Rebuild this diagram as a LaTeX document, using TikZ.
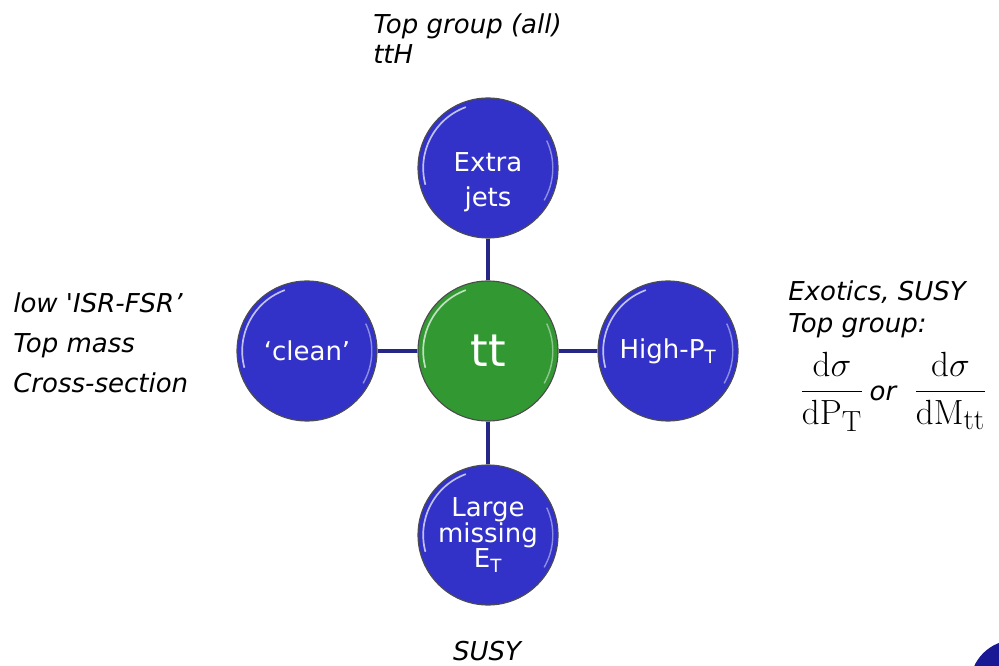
\documentclass[tikz,border=0pt]{standalone}
\usepackage[no-math]{fontspec}
\setmainfont{DejaVu Sans}
\definecolor{ballblue}{RGB}{50,50,200}
\definecolor{ballgreen}{RGB}{50,152,50}
\definecolor{linkblue}{RGB}{38,38,135}
\definecolor{cornerblue}{RGB}{25,25,150}

\begin{document}
\begin{tikzpicture}[
  ball/.style={circle, draw=black!70, line width=0.8pt, minimum size=3.5cm, inner sep=0pt,
    text=white, align=center, font=\fontsize{18.5}{25}\selectfont,
    path picture={
      \draw[white, opacity=.7, line width=1.2pt] (path picture bounding box.center) ++(110:1.62) arc (110:195:1.62);
      \draw[white, opacity=.45, line width=1pt] (path picture bounding box.center) ++(-30:1.62) arc (-30:25:1.62);
    }},
  blueball/.style={ball, fill=ballblue},
  greenball/.style={ball, fill=ballgreen},
  balltext/.style={text=white, align=center, font=\fontsize{18.5}{25}\selectfont},
  link/.style={draw=linkblue, line width=2.6pt},
  note/.style={inner sep=0pt, align=left, font=\fontsize{18.5}{22}\selectfont\itshape}
]
\useasboundingbox (0,0) rectangle (24.975,16.625);

% 中心
\node[greenball, font=\fontsize{32}{36}\selectfont] (tt) at (12.2,7.85) {tt};

% 四周
\node[blueball, label={[balltext, yshift=-0.35cm]center:{Extra\\jets}}] (extra) at (12.2,12.425) {};
\node[blueball, font=\fontsize{18.5}{18}\selectfont] (missing) at (12.2,3.25) {Large\\missing\\E\textsubscript{T}};
\node[blueball] (clean) at (7.675,7.85) {`clean'};
\node[blueball] (highpt) at (16.7,7.85) {High-P\textsubscript{T}};

% 连接
\draw[link] (tt) -- (extra);
\draw[link] (tt) -- (missing);
\draw[link] (tt) -- (clean);
\draw[link] (tt) -- (highpt);

% 标注
\node[note, anchor=north west, font=\fontsize{18.5}{21.5}\selectfont\itshape] (topnote) at (9.325,16.3) {Top group (all)\\ttH};
\node[note, anchor=north west, font=\fontsize{18.5}{28.5}\selectfont\itshape] (leftnote) at (0.325,9.325) {low \textquotesingle ISR-FSR'\\Top mass\\Cross-section};
\node[note, anchor=north west, font=\fontsize{18.5}{22.8}\selectfont\itshape] (rightnote) at (19.7,9.625) {Exotics, SUSY\\Top group:};
\node[note, anchor=west] (formula) at (20.0,6.825)
  {{\fontsize{24.88}{30}\selectfont$\displaystyle\frac{\mathrm{d}\sigma}{\mathrm{dP_T}}$}\hspace{0.15cm}or\hspace{0.45cm}%
   {\fontsize{24.88}{30}\selectfont$\displaystyle\frac{\mathrm{d}\sigma}{\mathrm{dM_{tt}}}$}};
\node[note, anchor=base] (susy) at (12.175,0.125) {SUSY};

% 角落
\fill[cornerblue] (25.375,-0.5) circle (1.125);
\end{tikzpicture}
\end{document}
